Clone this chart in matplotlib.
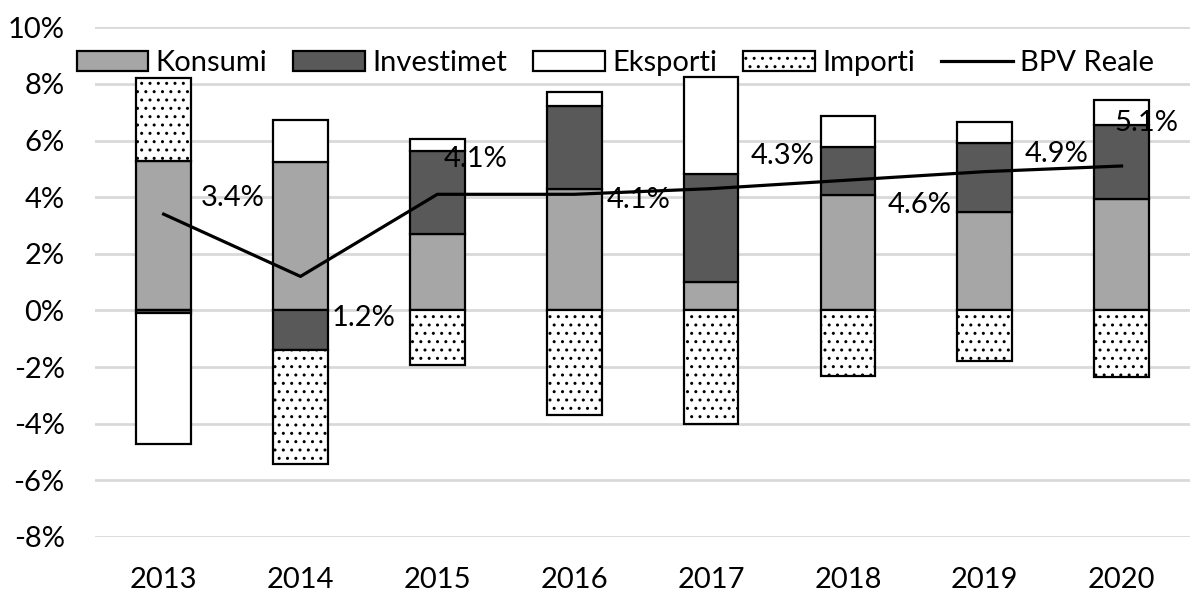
import numpy as np
import matplotlib
matplotlib.use('Agg')
import matplotlib.pyplot as plt
from matplotlib.ticker import FuncFormatter

years = ['2013', '2014', '2015', '2016', '2017', '2018', '2019', '2020']
konsumi = [5.27, 5.24, 2.71, 4.27, 1.02, 4.06, 3.49, 3.92]
investimet = [-0.10, -1.40, 2.92, 2.96, 3.78, 1.71, 2.41, 2.62]
eksporti = [-4.61, 1.48, 0.44, 0.47, 3.43, 1.10, 0.77, 0.89]
importi = [2.93, -4.02, -1.94, -3.70, -4.00, -2.31, -1.80, -2.35]
bpv = [3.4, 1.2, 4.1, 4.1, 4.3, 4.6, 4.9, 5.1]

plt.rcParams['font.family'] = ['Lato', 'DejaVu Sans']
plt.rcParams['font.size'] = 21
plt.rcParams['hatch.linewidth'] = 1.0

fig = plt.figure(figsize=(11.9, 5.92), dpi=100)
ax = fig.add_axes([0.08, 0.093, 0.92, 0.861])

x = np.arange(len(years))
w = 0.4
pos = np.zeros(len(years))
neg = np.zeros(len(years))
series = [
    ('Konsumi', konsumi, dict(facecolor='#a6a6a6')),
    ('Investimet', investimet, dict(facecolor='#595959')),
    ('Eksporti', eksporti, dict(facecolor='white')),
    ('Importi', importi, dict(facecolor='white', hatch='..')),
]
for name, vals, style in series:
    vals = np.array(vals)
    bottom = np.where(vals >= 0, pos, neg)
    ax.bar(x, vals, w, bottom=bottom, edgecolor='black', linewidth=1.6,
           label=name, zorder=3, **style)
    pos = pos + np.where(vals >= 0, vals, 0)
    neg = neg + np.where(vals < 0, vals, 0)

ax.plot(x, bpv, color='black', linewidth=2.3, label='BPV Reale', zorder=4)

# label offsets in pixels (dx, dy)
offs = [(69, 16), (63, -42), (38, 35), (64, -6), (72, 33), (72, -25), (72, 18), (25, 43)]
for xi, v, (dx, dy) in zip(x, bpv, offs):
    ax.annotate(f'{v:.1f}%', (xi, v), xytext=(dx, dy), textcoords='offset pixels',
                ha='center', va='center', zorder=5)

ax.set_xlim(-0.5, 7.5)
ax.set_ylim(-8, 10)
ax.set_yticks(np.arange(-8, 11, 2))
ax.yaxis.set_major_formatter(FuncFormatter(lambda v, p: f'{v:.0f}%'))
ax.set_xticks(x)
ax.set_xticklabels(years)
ax.tick_params(axis='both', length=0)
ax.tick_params(axis='y', pad=22)
ax.tick_params(axis='x', pad=22)
ax.grid(axis='y', color='#d9d9d9', linewidth=2, zorder=0)
ax.set_axisbelow(True)
for s in ax.spines.values():
    s.set_visible(False)

h, l = ax.get_legend_handles_labels()
order = ['Konsumi', 'Investimet', 'Eksporti', 'Importi', 'BPV Reale']
h = [h[l.index(n)] for n in order]
ax.legend(h, order, loc='center', bbox_to_anchor=(0.475, 0.929), ncol=5, frameon=False,
          handlelength=2.45, handleheight=0.65, handletextpad=0.25,
          columnspacing=0.9, borderaxespad=0)

fig.savefig('out.png', dpi=100)
